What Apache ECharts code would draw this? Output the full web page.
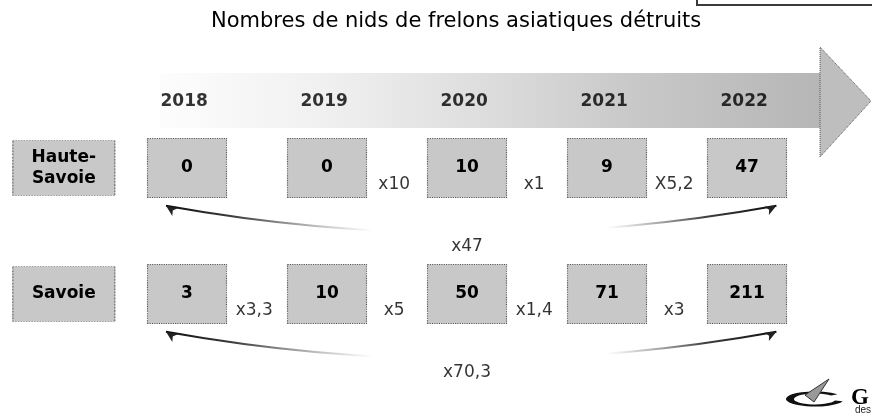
<!DOCTYPE html>
<html>
<head>
<meta charset="utf-8">
<title>Nombres de nids de frelons asiatiques détruits</title>
<script src="https://cdn.jsdelivr.net/npm/echarts@6/dist/echarts.min.js"></script>
<style>
    html, body { margin: 0; padding: 0; background: #ffffff; }
    #main { width: 872px; height: 418px; }
</style>
</head>
<body>
<div id="main"></div>
<script>
"use strict";
let years = ['2018', '2019', '2020', '2021', '2022'];
let departments = ['Haute-\nSavoie', 'Savoie'];
let hauteSavoie = [0, 0, 10, 9, 47];
let savoie = [3, 10, 50, 71, 211];
// growth from one year to the next ('' = not shown)
let hauteSavoieGrowth = ['', 'x10', 'x1', 'X5,2'];
let savoieGrowth = ['x3,3', 'x5', 'x1,4', 'x3'];
// growth 2018 -> 2022
let totalGrowth = ['x47', 'x70,3'];

let rows = [hauteSavoie, savoie];
let growths = [hauteSavoieGrowth, savoieGrowth];

// layout in axis units: one year = 1 on x, one department row = 1 on y
const yearRow = -0.53;
const labelCol = -0.88;
const font = 'DejaVu Sans';

let myChart = echarts.init(document.getElementById('main'));

let boxData = [];
let growthData = [];
let curveData = [];
let arrowData = [];
let totalData = [];
let last = years.length - 1;
rows.forEach(function (values, r) {
    values.forEach(function (v, i) {
        boxData.push([i, r, v]);
    });
    growths[r].forEach(function (g, i) {
        if (g) growthData.push([i + 0.48, r + 0.135, g]);
    });
    curveData.push({ coords: [[-0.15, r + 0.3], [last + 0.21, r + 0.3]] });
    // arrow heads at both ends of the curve
    arrowData.push({ value: [-0.15, r + 0.3], symbolRotate: 55 });
    arrowData.push({ value: [last + 0.21, r + 0.3], symbolRotate: -62 });
    totalData.push([last / 2, r + 0.62, totalGrowth[r]]);
});

let curveColor = {
    type: 'linear', x: 0, y: 0, x2: 1, y2: 0,
    colorStops: [
        { offset: 0, color: 'rgba(10,10,10,1)' },
        { offset: 0.12, color: 'rgba(30,30,30,0.85)' },
        { offset: 0.34, color: 'rgba(90,90,90,0)' },
        { offset: 0.72, color: 'rgba(90,90,90,0)' },
        { offset: 0.88, color: 'rgba(30,30,30,0.85)' },
        { offset: 1, color: 'rgba(10,10,10,1)' }
    ]
};

let option = {
    animation: false,
    backgroundColor: '#ffffff',
    title: {
        text: 'Nombres de nids de frelons asiatiques détruits',
        left: 206,
        top: 6,
        textStyle: { fontFamily: 'DejaVu Sans', fontWeight: 'normal', fontSize: 21, color: '#000' }
    },
    grid: { left: 0, right: 0, top: 0, bottom: 0 },
    xAxis: { type: 'value', min: -1.3357, max: 4.8929, show: false },
    yAxis: { type: 'value', inverse: true, min: -1.3333, max: 1.9841, show: false },
    graphic: [
        {   // frame of the box cut at the top right
            type: 'rect', shape: { x: 697, y: -12, width: 200, height: 17 },
            style: { fill: '#fff', stroke: '#3a3a3a', lineWidth: 2 }
        },
        {   // timeline arrow body
            type: 'polygon', z: -1,
            shape: { points: [[160, 73], [821, 73], [821, 128], [160, 128]] },
            style: {
                fill: {
                    type: 'linear', x: 0, y: 0, x2: 1, y2: 0,
                    colorStops: [
                        { offset: 0, color: '#fdfdfd' },
                        { offset: 0.25, color: '#f0f0f0' },
                        { offset: 0.48, color: '#dedede' },
                        { offset: 0.72, color: '#c8c8c8' },
                        { offset: 1, color: '#b6b6b6' }
                    ]
                }
            }
        },
        {   // arrow head
            type: 'polygon', z: -1,
            shape: { points: [[820, 47], [871, 101], [820, 157]] },
            style: { fill: '#bebebe', stroke: '#555', lineWidth: 1, lineDash: [1, 1] }
        },
        {   // logo swoosh
            type: 'arc', shape: { cx: 815, cy: 399, r: 25, startAngle: 0.3, endAngle: 5.6 },
            scaleY: 0.26, originX: 815, originY: 399,
            style: { fill: 'none', stroke: '#111', lineWidth: 8 }
        },
        {
            type: 'polygon', shape: { points: [[829, 379], [805, 395], [814, 402]] },
            style: { fill: '#999', stroke: '#333', lineWidth: 1 }
        },
        {
            type: 'text', left: 851, top: 387,
            style: { text: 'G', fontFamily: 'Liberation Serif', fontWeight: 'bold', fontSize: 23, fill: '#000' }
        },
        {
            type: 'text', left: 855, top: 405,
            style: { text: 'des', fontFamily: 'Liberation Sans', fontSize: 10, fill: '#222' }
        }
    ],
    series: [
        {
            name: 'curves',
            type: 'lines',
            coordinateSystem: 'cartesian2d',
            z: 1,
            symbol: 'none',
            lineStyle: { color: curveColor, width: 2, curveness: -0.09, opacity: 1 },
            data: curveData
        },
        {
            name: 'arrows',
            type: 'scatter',
            symbol: 'arrow',
            symbolSize: [7, 11],
            z: 2,
            itemStyle: { color: '#222', opacity: 1 },
            data: arrowData
        },
        {
            name: 'years',
            type: 'scatter',
            symbolSize: 0,
            z: 3,
            data: years.map(function (y, i) { return [i - 0.02, yearRow, y]; }),
            label: {
                show: true, position: 'inside',
                formatter: function (p) { return p.data[2]; },
                fontFamily: font, fontWeight: 'bold', fontSize: 17, color: '#000'
            }
        },
        {
            name: 'departments',
            type: 'scatter',
            symbol: 'rect',
            symbolSize: [102, 55],
            z: 3,
            itemStyle: { color: '#c8c8c8', borderColor: '#555', borderWidth: 1, borderType: 'dotted', opacity: 1 },
            data: departments.map(function (d, r) { return [labelCol, r, d]; }),
            label: {
                show: true, position: 'inside',
                formatter: function (p) { return p.data[2]; },
                fontFamily: font, fontWeight: 'bold', fontSize: 17, lineHeight: 21, color: '#000'
            }
        },
        {
            name: 'nids',
            type: 'scatter',
            symbol: 'rect',
            symbolSize: [79, 59],
            z: 3,
            itemStyle: { color: '#c8c8c8', borderColor: '#555', borderWidth: 1, borderType: 'dotted', opacity: 1 },
            data: boxData,
            label: {
                show: true, position: 'inside',
                formatter: function (p) { return String(p.data[2]); },
                fontFamily: font, fontWeight: 'bold', fontSize: 17, color: '#000'
            }
        },
        {
            name: 'growth',
            type: 'scatter',
            symbolSize: 0,
            z: 3,
            data: growthData.concat(totalData),
            label: {
                show: true, position: 'inside',
                formatter: function (p) { return p.data[2]; },
                fontFamily: font, fontSize: 17, color: '#000'
            }
        }
    ]
};
myChart.setOption(option);
</script>
</body>
</html>
